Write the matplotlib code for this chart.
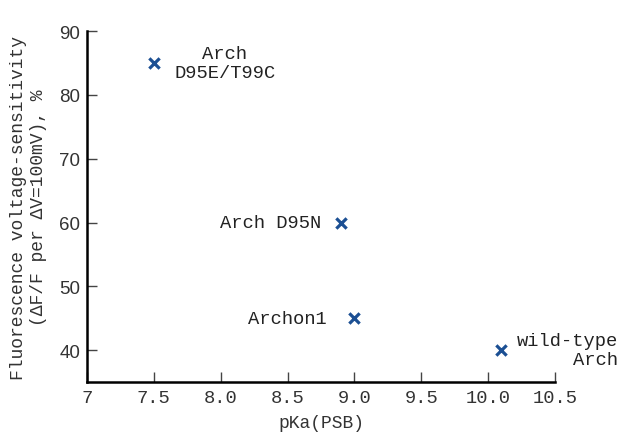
import matplotlib
matplotlib.use("Agg")
import matplotlib.pyplot as plt

names = ["Arch\nD95E/T99C", "Arch D95N", "Archon1", "wild-type\nArch"]
pka = [7.5, 8.9, 9.0, 10.1]
sens = [85, 60, 45, 40]
xticks = [7, 7.5, 8.0, 8.5, 9.0, 9.5, 10.0, 10.5]
xticklabels = ["7", "7.5", "8.0", "8.5", "9.0", "9.5", "10.0", "10.5"]
yticks = [40, 50, 60, 70, 80, 90]

mono = "Liberation Mono"
fig = plt.figure(figsize=(6.19, 4.35), dpi=100)
ax = fig.add_axes([0.1405, 0.1195, 0.756, 0.8065])
ax.scatter(pka, sens, marker="x", s=55, color="#1b4f93", linewidths=2.3, zorder=3)
ax.set_xlim(7, 10.5)
ax.set_ylim(35, 90)
ax.set_xticks(xticks)
ax.set_xticklabels(xticklabels, fontfamily=mono, fontsize=13.5, color="#333333")
ax.set_yticks(yticks)
ax.set_yticklabels([str(v) for v in yticks], fontfamily="Liberation Sans", fontsize=13.5, color="#333333")
for s in ["top", "right"]:
    ax.spines[s].set_visible(False)
for s in ["left", "bottom"]:
    ax.spines[s].set_linewidth(1.8)
ax.tick_params(direction="in", length=7, width=1, color="#444444", pad=5)
ax.set_xlabel("pKa(PSB)", fontfamily=mono, fontsize=13, labelpad=6, color="#333333")
ax.set_ylabel("Fluorescence voltage-sensitivity\n(ΔF/F per ΔV=100mV), %", fontfamily=mono, fontsize=13, labelpad=9, color="#333333")

kw = dict(fontfamily=mono, fontsize=13.5, color="#222222")
ax.annotate(names[0], (pka[0], sens[0]), xytext=(51, 0), textcoords="offset points", ha="center", va="center", multialignment="center", **kw)
ax.annotate(names[1], (pka[1], sens[1]), xytext=(-14, 0), textcoords="offset points", ha="right", va="center", **kw)
ax.annotate(names[2], (pka[2], sens[2]), xytext=(-20, 0), textcoords="offset points", ha="right", va="center", **kw)
ax.annotate(names[3], (pka[3], sens[3]), xytext=(84, 0), textcoords="offset points", ha="right", va="center", multialignment="right", **kw)

fig.savefig("out.png", dpi=100)
